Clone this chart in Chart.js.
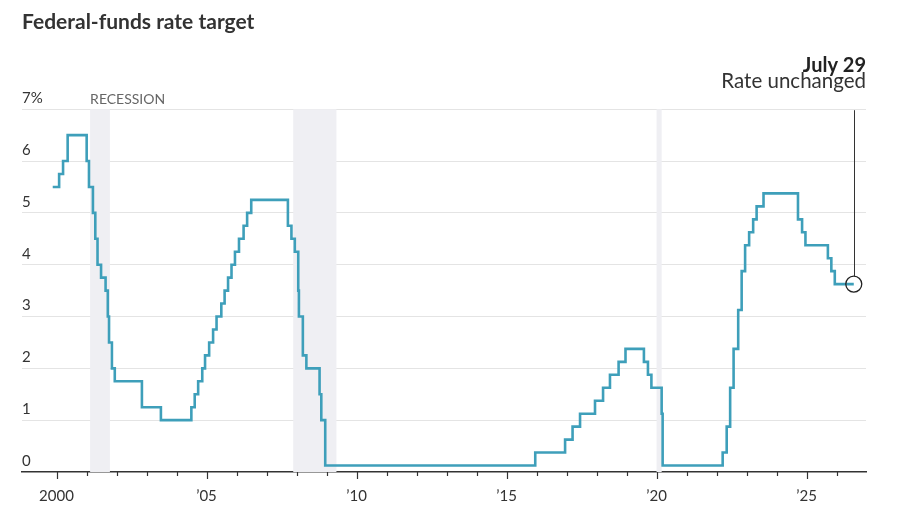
<!DOCTYPE html>
<html lang="en">
<head>
  <meta charset="UTF-8">
  <title>Federal-funds rate target</title>
  <script src="https://cdn.jsdelivr.net/npm/chart.js"></script>
  <style>
    html, body { margin: 0; padding: 0; background: #fff; }
    #wrap { width: 900px; height: 510px; position: relative; }
  </style>
</head>
<body>
  <div id="wrap">
    <canvas id="rateChart"></canvas>
  </div>

  <script>
    // Dates the target changed, and the new target (midpoint of range after 2008)
    const changeDates = [
      '1999-11-16', '2000-02-02', '2000-03-21', '2000-05-16',
      '2001-01-03', '2001-01-31', '2001-03-20', '2001-04-18', '2001-05-15', '2001-06-27',
      '2001-08-21', '2001-09-17', '2001-10-02', '2001-11-06', '2001-12-11',
      '2002-11-06', '2003-06-25',
      '2004-06-30', '2004-08-10', '2004-09-21', '2004-11-10', '2004-12-14',
      '2005-02-02', '2005-03-22', '2005-05-03', '2005-06-30', '2005-08-09', '2005-09-20',
      '2005-11-01', '2005-12-13', '2006-01-31', '2006-03-28', '2006-05-10', '2006-06-29',
      '2007-09-18', '2007-10-31', '2007-12-11',
      '2008-01-22', '2008-01-30', '2008-03-18', '2008-04-30', '2008-10-08', '2008-10-29', '2008-12-16',
      '2015-12-16', '2016-12-14', '2017-03-15', '2017-06-14', '2017-12-13',
      '2018-03-21', '2018-06-13', '2018-09-26', '2018-12-19',
      '2019-07-31', '2019-09-18', '2019-10-30', '2020-03-03', '2020-03-15',
      '2022-03-16', '2022-05-04', '2022-06-15', '2022-07-27', '2022-09-21', '2022-11-02', '2022-12-14',
      '2023-02-01', '2023-03-22', '2023-05-03', '2023-07-26',
      '2024-09-18', '2024-11-07', '2024-12-18',
      '2025-09-17', '2025-10-29', '2025-12-10', '2026-07-29'
    ];
    const rates = [
      5.5, 5.75, 6.0, 6.5,
      6.0, 5.5, 5.0, 4.5, 4.0, 3.75,
      3.5, 3.0, 2.5, 2.0, 1.75,
      1.25, 1.0,
      1.25, 1.5, 1.75, 2.0, 2.25,
      2.5, 2.75, 3.0, 3.25, 3.5, 3.75,
      4.0, 4.25, 4.5, 4.75, 5.0, 5.25,
      4.75, 4.5, 4.25,
      3.5, 3.0, 2.25, 2.0, 1.5, 1.0, 0.125,
      0.375, 0.625, 0.875, 1.125, 1.375,
      1.625, 1.875, 2.125, 2.375,
      2.125, 1.875, 1.625, 1.125, 0.125,
      0.375, 0.875, 1.625, 2.375, 3.125, 3.875, 4.375,
      4.625, 4.875, 5.125, 5.375,
      4.875, 4.625, 4.375,
      4.125, 3.875, 3.625, 3.625
    ];

    // Recession periods (decimal years)
    const recessionStarts = [2001.12, 2007.89, 2020.0];
    const recessionEnds = [2001.78, 2009.33, 2020.17];

    const yearTicks = [2000, 2005, 2010, 2015, 2020, 2025];
    const yTicks = [0, 1, 2, 3, 4, 5, 6, 7];

    const noteDate = 'July 29';
    const noteText = 'Rate unchanged';

    const FONT = 'Lato, "Noto Sans", sans-serif';
    const LINE_COLOR = '#3e9fba';

    function toDecimalYear(s) {
      const [y, m, d] = s.split('-').map(Number);
      const start = Date.UTC(y, 0, 1);
      const end = Date.UTC(y + 1, 0, 1);
      return y + (Date.UTC(y, m - 1, d) - start) / (end - start);
    }

    const points = changeDates.map((d, i) => ({ x: toDecimalYear(d), y: rates[i] }));
    const lastIndex = points.length - 1;

    // shaded recession bands + label
    const recessionPlugin = {
      id: 'recessions',
      beforeDatasetsDraw(chart) {
        const { ctx, chartArea, scales: { x } } = chart;
        ctx.save();
        ctx.fillStyle = '#efeff3';
        recessionStarts.forEach((s, i) => {
          const x0 = x.getPixelForValue(s);
          const x1 = x.getPixelForValue(recessionEnds[i]);
          ctx.fillRect(x0, chartArea.top, x1 - x0, chartArea.bottom - chartArea.top);
        });
        ctx.fillStyle = '#666';
        ctx.font = '14px ' + FONT;
        ctx.textAlign = 'left';
        ctx.textBaseline = 'middle';
        ctx.fillText('RECESSION', x.getPixelForValue(recessionStarts[0]), chartArea.top - 10);
        ctx.restore();
      }
    };

    // yearly tick marks below the axis line, longer every five years
    const yearTickPlugin = {
      id: 'yearTicks',
      afterDraw(chart) {
        const { ctx, chartArea, scales: { x } } = chart;
        ctx.save();
        ctx.strokeStyle = '#333';
        ctx.lineWidth = 1.2;
        for (let yr = 2000; yr <= 2026; yr++) {
          const px = Math.round(x.getPixelForValue(yr)) + 0.5;
          const len = yr % 5 === 0 ? 7 : 4;
          ctx.beginPath();
          ctx.moveTo(px, chartArea.bottom);
          ctx.lineTo(px, chartArea.bottom + len);
          ctx.stroke();
        }
        ctx.restore();
      }
    };

    // callout for the latest decision
    const notePlugin = {
      id: 'note',
      afterDatasetsDraw(chart) {
        const { ctx, chartArea, scales: { x, y } } = chart;
        const px = x.getPixelForValue(points[lastIndex].x);
        const py = y.getPixelForValue(points[lastIndex].y);
        ctx.save();
        ctx.strokeStyle = '#333';
        ctx.lineWidth = 1;
        ctx.beginPath();
        ctx.moveTo(Math.round(px) + 0.5, chartArea.top + 1);
        ctx.lineTo(Math.round(px) + 0.5, py - 8);
        ctx.stroke();
        ctx.textAlign = 'right';
        ctx.textBaseline = 'middle';
        ctx.fillStyle = '#222';
        ctx.font = 'bold 20px ' + FONT;
        ctx.fillText(noteDate, chartArea.right, 66);
        ctx.fillStyle = '#333';
        ctx.font = '20.5px ' + FONT;
        ctx.fillText(noteText, chartArea.right, 81);
        ctx.restore();
      }
    };

    new Chart(document.getElementById('rateChart'), {
      type: 'line',
      data: {
        datasets: [{
          label: 'Federal-funds rate target',
          data: points,
          stepped: true,
          borderColor: LINE_COLOR,
          borderWidth: 2.6,
          fill: false,
          pointRadius: ctx => ctx.dataIndex === lastIndex ? 8 : 0,
          pointHoverRadius: 0,
          pointBorderColor: '#222',
          pointBorderWidth: 1.3,
          pointBackgroundColor: 'rgba(0,0,0,0)'
        }]
      },
      options: {
        responsive: true,
        maintainAspectRatio: false,
        animation: false,
        events: [],
        layout: { padding: { left: 22, right: 34, top: 10, bottom: -2 } },
        plugins: {
          legend: { display: false },
          tooltip: { enabled: false },
          title: {
            display: true,
            text: 'Federal-funds rate target',
            align: 'start',
            color: '#333',
            font: { family: FONT, size: 21, weight: 'bold' },
            padding: { top: 0, bottom: 74 }
          }
        },
        scales: {
          x: {
            type: 'linear',
            min: 1998.85,
            max: 2026.98,
            afterBuildTicks: scale => { scale.ticks = yearTicks.map(v => ({ value: v })); },
            grid: { display: false },
            border: { display: true, color: '#333', width: 1.5 },
            ticks: {
              color: '#333',
              font: { family: FONT, size: 15 },
              padding: 7,
              maxRotation: 0,
              autoSkip: false,
              callback: v => v === 2000 ? '2000' : '\u2019' + String(v).slice(2)
            }
          },
          y: {
            min: 0,
            max: 7,
            afterBuildTicks: scale => { scale.ticks = yTicks.map(v => ({ value: v })); },
            border: { display: false },
            grid: {
              color: c => c.tick && c.tick.value === 0 ? 'rgba(0,0,0,0)' : '#e4e4e4',
              lineWidth: 1,
              drawTicks: false
            },
            ticks: {
              mirror: true,
              padding: 0,
              labelOffset: -11,
              color: '#333',
              font: { family: FONT, size: 15 },
              callback: v => v === 7 ? '7%' : String(v)
            }
          }
        }
      },
      plugins: [recessionPlugin, yearTickPlugin, notePlugin]
    });
  </script>
</body>
</html>
